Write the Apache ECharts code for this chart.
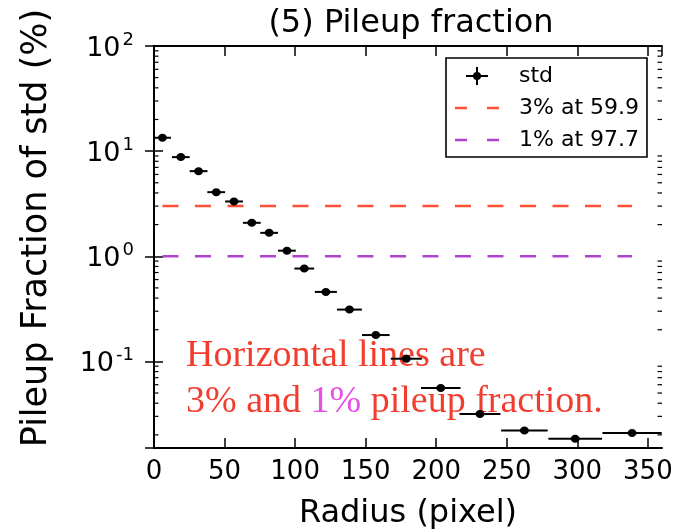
<!DOCTYPE html>
<html>
<head>
<meta charset="utf-8">
<script src="https://cdn.jsdelivr.net/npm/echarts@6/dist/echarts.min.js"></script>
<style>
  html, body { margin: 0; padding: 0; background: #fff; }
  #chart { width: 684px; height: 531px; }
</style>
</head>
<body>
<div id="chart"></div>
<script>
// Radial bins (pixel) and pileup fraction of the std extraction (%)
const radius    = [6.0, 19.0, 31.6, 44.1, 56.7, 69.3, 81.6, 94.2, 106.5, 121.8, 138.5, 157.2, 178.8, 203.2, 231.0, 262.5, 298.5, 338.8];
const radiusErr = [6.0, 6.3, 6.3, 6.3, 6.3, 6.3, 6.3, 6.3, 7.0, 7.8, 8.8, 9.8, 11.0, 14.0, 14.5, 16.5, 19.0, 21.0];
const pileup    = [13.4, 8.77, 6.45, 4.07, 3.32, 2.08, 1.67, 1.13, 0.764, 0.458, 0.311, 0.178, 0.106, 0.0558, 0.0316, 0.0220, 0.0184, 0.0208];

// Pileup thresholds and the radius where each is crossed
const thresholdNames  = ['3% at 59.9', '1% at 97.7'];
const thresholdValues = [3, 1];
const thresholdColors = ['#ff4f36', '#b042d0'];

const xMin = 0, xMax = 360, yMin = 0.015, yMax = 100;
const FONT = 'DejaVu Sans';

// log-axis minor tick positions (2..9 x 10^k)
const minorTicks = [];
for (let k = -2; k <= 1; k++) {
  for (let m = 2; m <= 9; m++) {
    const v = m * Math.pow(10, k);
    if (v >= yMin && v <= yMax) minorTicks.push(v);
  }
}

const chart = echarts.init(document.getElementById('chart'), null, { renderer: 'canvas' });

// legend glyphs: a cross with a dot for the data, two dashes for the thresholds
const stdIcon = 'path://M0,0 M44,20 M11,9 h22 v2 h-22 z M21,1 h2 v18 h-2 z M18,10 a4,4 0 1,1 8,0 a4,4 0 1,1 -8,0 z';
const dashIcon = 'path://M0,0 M44,20 M0,8.75 h12 v2.5 h-12 z M32,8.75 h12 v2.5 h-12 z';

function logLabel(v) {
  const e = Math.log10(v);
  const r = Math.round(e);
  if (Math.abs(e - r) > 1e-6) return '';
  return '{b|10}{s|' + r + '}';
}

const xAxisBase = {
  type: 'value', min: xMin, max: xMax, interval: 50,
  splitLine: { show: false },
  axisLine: { show: true, onZero: false, lineStyle: { color: '#000', width: 2 } },
  axisTick: { show: true, inside: true, length: 10, lineStyle: { color: '#000', width: 1.5 } }
};
const yAxisBase = {
  type: 'log', logBase: 10, min: yMin, max: yMax,
  splitLine: { show: false },
  axisLine: { show: true, lineStyle: { color: '#000', width: 2 } },
  axisTick: { show: true, inside: true, length: 9, lineStyle: { color: '#000', width: 1.5 } }
};

const thresholdSeries = thresholdValues.map((v, i) => ({
  type: 'line',
  name: thresholdNames[i],
  data: [[radius[0], v], [radius[radius.length - 1], v]],
  symbol: 'none',
  silent: true,
  z: 3,
  lineStyle: { color: thresholdColors[i], width: 2.5, type: [16, 16.5] },
  itemStyle: { color: thresholdColors[i] }
}));

chart.setOption({
  backgroundColor: '#fff',
  animation: false,
  title: {
    text: '(5) Pileup fraction',
    left: 411, top: 8, textAlign: 'center', padding: 0,
    textStyle: { fontFamily: FONT, fontSize: 32, fontWeight: 'normal', color: '#000' }
  },
  grid: { left: 154, top: 46, width: 508, height: 402, containLabel: false, outerBoundsMode: 'none' },
  legend: {
    orient: 'vertical',
    left: 446, top: 58,
    padding: [7, 8, 6, 9],
    itemGap: 10, itemWidth: 44, itemHeight: 20,
    backgroundColor: '#fff',
    borderColor: '#000', borderWidth: 1.6, borderRadius: 0,
    selectedMode: false,
    textStyle: { fontFamily: FONT, fontSize: 22, color: '#000', lineHeight: 22, padding: [0, 0, 0, 15] },
    data: [
      { name: 'std', icon: stdIcon, itemStyle: { color: '#000', borderWidth: 0 } },
      { name: thresholdNames[0], icon: dashIcon, itemStyle: { borderWidth: 0 } },
      { name: thresholdNames[1], icon: dashIcon, itemStyle: { borderWidth: 0 } }
    ]
  },
  xAxis: [
    Object.assign({}, xAxisBase, {
      position: 'bottom',
      name: 'Radius (pixel)', nameLocation: 'middle', nameGap: 50,
      nameTextStyle: { fontFamily: FONT, fontSize: 32, color: '#000' },
      axisLabel: { show: true, margin: 11, showMaxLabel: false, fontFamily: FONT, fontSize: 26, color: '#000' }
    }),
    Object.assign({}, xAxisBase, { position: 'top', axisLabel: { show: false } })
  ],
  yAxis: [
    Object.assign({}, yAxisBase, {
      position: 'left',
      name: 'Pileup Fraction of std (%)', nameLocation: 'middle', nameRotate: 90, nameGap: 100,
      nameTextStyle: { fontFamily: FONT, fontSize: 35, color: '#000', padding: [0, 0, 0, 38] },
      axisLabel: {
        show: true, margin: 20, showMinLabel: false,
        formatter: logLabel, padding: [6, 0, 0, 0],
        rich: {
          b: { fontFamily: FONT, fontSize: 27, color: '#000', lineHeight: 36 },
          s: { fontFamily: FONT, fontSize: 18, color: '#000', lineHeight: 18, verticalAlign: 'top', padding: [0, 0, 0, 2] }
        }
      }
    }),
    Object.assign({}, yAxisBase, { position: 'right', axisLabel: { show: false } })
  ],
  graphic: [{
    type: 'text', left: 186, top: 337, z: 1, silent: true,
    style: {
      text: '{r|Horizontal lines are}\n{r|3% and }{m|1%}{r| pileup fraction.}',
      rich: {
        r: { fontFamily: 'Liberation Serif', fontSize: 38, lineHeight: 46, fill: '#f23d2e', color: '#f23d2e' },
        m: { fontFamily: 'Liberation Serif', fontSize: 38, lineHeight: 46, fill: '#e650e6', color: '#e650e6' }
      }
    }
  }],
  series: [
    {
      // minor log ticks on the left and right frame edges
      type: 'custom', name: 'minor', silent: true, z: 4,
      data: minorTicks.map(v => [xMin, v]),
      encode: { x: 0, y: 1 },
      renderItem: function (params, api) {
        const v = api.value(1);
        const l = api.coord([xMin, v]);
        const r = api.coord([xMax, v]);
        const st = { stroke: '#000', lineWidth: 1.2 };
        return {
          type: 'group', children: [
            { type: 'line', shape: { x1: l[0], y1: l[1], x2: l[0] + 4.5, y2: l[1] }, style: st },
            { type: 'line', shape: { x1: r[0] - 4.5, y1: r[1], x2: r[0], y2: r[1] }, style: st }
          ]
        };
      }
    },
    thresholdSeries[0],
    thresholdSeries[1],
    {
      type: 'custom', name: 'std', z: 5,
      itemStyle: { color: '#000' },
      data: radius.map((r, i) => [r, pileup[i], radiusErr[i]]),
      encode: { x: 0, y: 1 },
      renderItem: function (params, api) {
        const x = api.value(0), y = api.value(1), e = api.value(2);
        const c = api.coord([x, y]);
        const a = api.coord([x - e, y]);
        const b = api.coord([x + e, y]);
        return {
          type: 'group', children: [
            { type: 'line', shape: { x1: a[0], y1: c[1], x2: b[0], y2: c[1] }, style: { stroke: '#000', lineWidth: 2 } },
            { type: 'ellipse', shape: { cx: c[0], cy: c[1], rx: 4.5, ry: 4 }, style: { fill: '#000' } }
          ]
        };
      }
    }
  ]
});
</script>
</body>
</html>
